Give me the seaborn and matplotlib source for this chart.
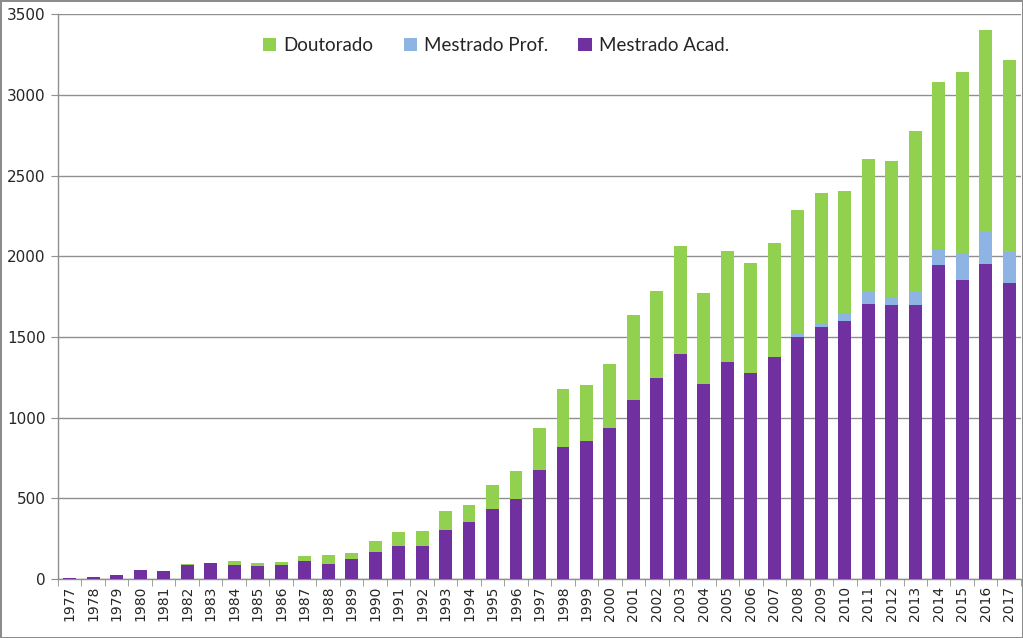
import numpy as np
import pandas as pd
import seaborn as sns
from matplotlib import pyplot as plt
from matplotlib.ticker import FixedLocator

# values
years = list(range(1977, 2018))
mestrado_acad = [5, 10, 22, 54, 52, 87, 97, 89, 81, 85,
                 111, 95, 126, 169, 207, 207, 301, 351, 432, 498,
                 677, 820, 853, 936, 1111, 1247, 1392, 1208, 1342, 1278,
                 1373, 1497, 1561, 1598, 1706, 1698, 1698, 1946, 1852, 1952,
                 1836]
mestrado_prof = [0, 0, 0, 0, 0, 0, 0, 0, 0, 0,
                 0, 0, 0, 0, 0, 0, 0, 0, 0, 0,
                 0, 0, 0, 0, 0, 0, 0, 0, 0, 0,
                 0, 29, 27, 48, 70, 49, 88, 99, 166, 198,
                 188]
doutorado = [3, 2, 0, 0, 0, 8, 0, 22, 20, 20,
             34, 56, 35, 66, 82, 88, 120, 106, 148, 173,
             259, 357, 352, 394, 524, 537, 673, 562, 694, 682,
             707, 764, 803, 756, 830, 845, 989, 1035, 1127, 1255,
             1191]

colors = {"Doutorado": "#92D050", "Mestrado Prof.": "#8EB4E3", "Mestrado Acad.": "#7030A0"}

df = pd.DataFrame({"ano": [str(y) for y in years],
                   "acad": mestrado_acad,
                   "prof": mestrado_prof,
                   "dout": doutorado})
# cumulative tops for the stacked look
df["top_prof"] = df["acad"] + df["prof"]
df["top_dout"] = df["top_prof"] + df["dout"]

sns.set_style("white")
plt.rcParams['font.family'] = ['DejaVu Sans']

fig = plt.figure(figsize=(10.23, 6.38), dpi=100)
fig.patch.set_edgecolor('#8c8c8c')
fig.patch.set_linewidth(2)
ax = fig.add_axes([0.0567, 0.0925, 0.9413, 0.885])

w = 0.55
sns.barplot(data=df, x="ano", y="top_dout", color=colors["Doutorado"], width=w,
            saturation=1, errorbar=None, ax=ax, label="Doutorado", linewidth=0, zorder=3)
sns.barplot(data=df, x="ano", y="top_prof", color=colors["Mestrado Prof."], width=w,
            saturation=1, errorbar=None, ax=ax, label="Mestrado Prof.", linewidth=0, zorder=3)
sns.barplot(data=df, x="ano", y="acad", color=colors["Mestrado Acad."], width=w,
            saturation=1, errorbar=None, ax=ax, label="Mestrado Acad.", linewidth=0, zorder=3)
if ax.get_legend() is not None:
    ax.get_legend().remove()

ax.set_xlim(-0.5, len(years) - 0.5)
ax.set_ylim(0, 3500)
ax.set_yticks(np.arange(0, 3501, 500))
ax.yaxis.grid(True, color='#8f8f8f', linewidth=1, zorder=0)
ax.set_axisbelow(True)
ax.set_xlabel("")
ax.set_ylabel("")

for s in ["top", "right"]:
    ax.spines[s].set_visible(False)
for s in ["left", "bottom"]:
    ax.spines[s].set_color('#8f8f8f')
    ax.spines[s].set_linewidth(1)

ax.tick_params(axis='y', labelsize=11, length=5, color='#8f8f8f', pad=4, direction='out', left=True)
ax.tick_params(axis='x', which='major', labelsize=10, rotation=90, length=0, pad=5)
ax.xaxis.set_minor_locator(FixedLocator(np.arange(-0.5, len(years), 1)))
ax.tick_params(axis='x', which='minor', length=5, color='#8f8f8f', direction='out', bottom=True)

handles, labels = ax.get_legend_handles_labels()
fig.legend(handles, labels, loc='center', bbox_to_anchor=(0.485, 0.928), ncol=3, frameon=False,
           handlelength=0.7, handleheight=0.7, handletextpad=0.4, columnspacing=1.6,
           prop={'family': 'Lato', 'size': 13.5})

fig.savefig("out.png", dpi=100)
